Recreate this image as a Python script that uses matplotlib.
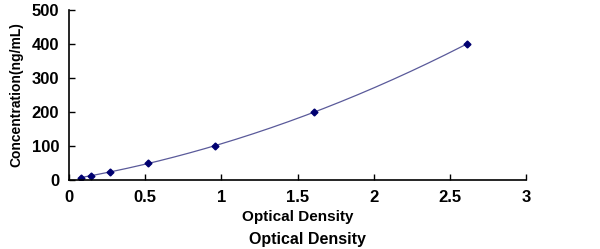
import numpy as np
import matplotlib.pyplot as plt

# ── data ───────────────────────────────────────────────────────────────────────

OD   = [0.079, 0.144, 0.27, 0.52, 0.96, 1.61, 2.61]
CONC = [6.25, 12.5, 25, 50, 100, 200, 400]

X_TICKS = [0, 0.5, 1, 1.5, 2, 2.5, 3]
Y_TICKS = [0, 100, 200, 300, 400, 500]

plt.rcParams["font.family"] = ["Liberation Sans", "DejaVu Sans"]

fig = plt.figure(figsize=(6, 2.49), dpi=100)
ax = fig.add_axes([0.115, 0.277, 0.762, 0.683])

# smooth trend line through the standards
coef = np.polyfit(OD, CONC, 2)
xs = np.linspace(min(OD), max(OD), 200)
ax.plot(xs, np.polyval(coef, xs), color="#5a5a9a", lw=0.9)
ax.plot(OD, CONC, linestyle="none", marker="D", ms=3.5, color="#000070")

ax.set_xlim(0, 3)
ax.set_ylim(0, 500)
ax.set_xticks(X_TICKS)
ax.set_xticklabels([f"{t:g}" for t in X_TICKS], fontsize=12, fontweight="bold")
ax.set_yticks(Y_TICKS)
ax.set_yticklabels(Y_TICKS, fontsize=12, fontweight="bold")
ax.tick_params(direction="in", length=4, width=1, pad=7)
for s in ["top", "right"]:
    ax.spines[s].set_visible(False)
for s in ["left", "bottom"]:
    ax.spines[s].set_linewidth(1.2)

ax.set_xlabel("Optical Density", fontsize=11, fontweight="bold", labelpad=4)
ax.set_ylabel("Concentration(ng/mL)", fontsize=10, fontweight="bold", labelpad=6)
fig.text(0.512, 0.038, "Optical Density", ha="center", va="center",
         fontsize=11.5, fontweight="heavy")

fig.savefig("out.png", dpi=100)
